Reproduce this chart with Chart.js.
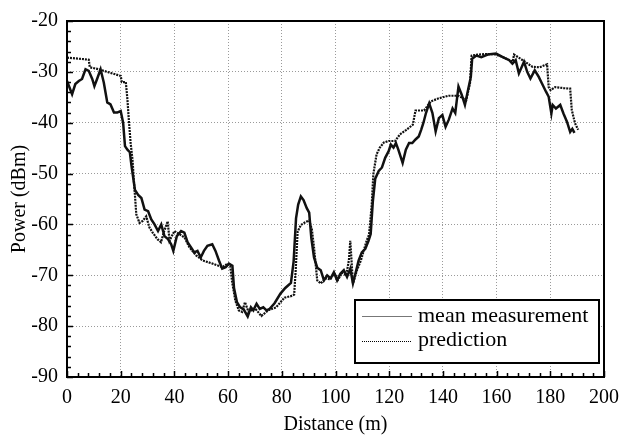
<!DOCTYPE html>
<html>
<head>
<meta charset="utf-8">
<script src="https://cdn.jsdelivr.net/npm/chart.js@4.4.1/dist/chart.umd.min.js"></script>
<style>
  body { margin: 0; background: #fff; }
  #wrap { width: 628px; height: 439px; }
</style>
</head>
<body>
<div id="wrap"><canvas id="powerChart" width="628" height="439"></canvas></div>
<script>
// mean measurement (distance m, power dBm)
const measDist = [0, 1.9, 3.1, 4.4, 5.6, 6.9, 8.1, 9.4, 10.2, 11.2, 12.5, 13.7, 15, 16.2, 17.5, 18.7, 20, 20.9, 21.6, 22.5,
  23.4, 24, 25.3, 26.5, 27.7, 28.9, 30.2, 31.4, 32.6, 33.9, 35.1, 36.3, 37.6, 38.8, 39.6, 40.9, 42.5, 43.7, 44.9, 46.2,
  47.4, 48.6, 49.8, 51, 52.3, 54.1, 55.3, 56.6, 57.8, 59.1, 60.3, 61.6, 62.2, 63.3, 64.5, 65.7, 67.3, 68.5, 69.4, 70.6,
  71.8, 73.1, 74.3, 75.5, 77.3, 79.5, 81.3, 83.4, 84.4, 85.3, 86.1, 87.1, 88.1, 89.3, 90.2, 91, 92, 93.2, 94.5, 95.7,
  96.9, 98.2, 99.4, 100.6, 101.8, 103.1, 104.3, 105.5, 106.5, 107.4, 108.6, 109.8, 111.1, 112.3, 113.1, 113.9, 114.8, 116.1, 117.3, 118.5,
  119.8, 120.6, 121.6, 122.5, 123.4, 125, 126.2, 127.4, 128.6, 129.8, 131, 131.9, 132.7, 133.7, 134.9, 136.1, 137.3, 138.5, 139.8, 141,
  142.2, 143.6, 144.6, 145.8, 147, 148.2, 149.5, 150.4, 150.9, 152.5, 154.3, 156.7, 159.8, 162.3, 164.7, 165.9, 167.1, 168.3, 170.2, 171.4,
  172.6, 174.2, 175.7, 176.9, 178.4, 179.4, 180.4, 180.9, 182.1, 183.7, 184.9, 186.2, 187.4, 188.2, 189];
const measPower = [-31.8, -34.4, -32.4, -31.8, -31.4, -29.5, -29.8, -31.4, -32.8, -31.4, -29.5, -32.1, -36, -36.4, -38, -38, -37.7, -40, -44.6, -45.3,
  -45.8, -48.4, -53.2, -54.2, -54.8, -57.1, -57.4, -59, -60, -61.3, -60, -62.3, -62.9, -63.9, -65.2, -62.3, -61.3, -61.6, -63.5, -64.5,
  -65.5, -65.2, -66.5, -65.2, -64.2, -63.9, -65.2, -67.1, -68.7, -68.4, -67.7, -68.1, -72.5, -75.3, -76.3, -76.6, -78.1, -76.3, -76.9, -75.6,
  -76.6, -76.3, -76.9, -76.6, -75.5, -73.6, -72.5, -71.5, -67.3, -58.8, -56.1, -54.5, -55.2, -56.8, -57.7, -62.7, -66.5, -68.5, -69, -71,
  -70, -70.6, -69.4, -71, -69.7, -69, -70.3, -68.7, -71.6, -69.7, -67.1, -65.5, -64.8, -63.2, -61.9, -55.5, -51, -49.5, -48.8, -46.9,
  -45.6, -44.3, -44.9, -44, -45.3, -47.9, -45.3, -44, -44, -43.3, -42.7, -41.4, -40.1, -38.1, -36.2, -38.1, -41.7, -39.1, -38.5, -40.8,
  -39.4, -37.2, -38.1, -32.9, -34.5, -36.5, -33.2, -31, -27.4, -26.8, -27.1, -26.6, -26.4, -27.1, -27.7, -28.4, -27.7, -30.3, -28, -30,
  -31.3, -29.7, -31, -32.3, -33.9, -34.9, -38.2, -36.5, -37.2, -36.5, -38.2, -39.8, -41.8, -41.2, -42];

// prediction
const predDist = [0, 4, 8.1, 8.5, 11.9, 15.6, 20, 20.4, 21.9, 22.5, 23.1, 23.7, 24.4, 25, 25.8, 27, 28.2, 29.5, 30.7, 31.9,
  33.7, 35, 36.2, 37.5, 38.2, 40, 41.9, 43.8, 45.6, 48.1, 50.6, 54.2, 57.9, 59.8, 60.8, 61.5, 62.7, 64, 65.2, 66.3,
  67.6, 70, 72.4, 74.9, 77.9, 81, 83.4, 84.6, 85.2, 85.9, 87.1, 89, 90.2, 91.2, 92, 93.2, 94.5, 96.3, 98, 99.5,
  101, 102.5, 104, 105, 105.5, 106.5, 108, 109.5, 111.6, 112.5, 113.5, 114.1, 115.3, 116.5, 118, 119.8, 122.2, 124, 126.4, 128.8,
  129.8, 133, 135.5, 138.5, 142.1, 145.8, 147.6, 148.5, 150.1, 150.7, 153, 156, 159, 162, 164, 166, 166.5, 170, 173.3, 176,
  178.8, 179.4, 180.1, 181.8, 185, 187.4, 188, 189.2, 190.4];
const predPower = [-27.2, -27.4, -27.6, -29.1, -29.5, -30.1, -30.8, -32, -32, -35.4, -40, -44, -47.3, -52, -58, -59.7, -59.3, -58.4, -60.6, -61.6,
  -62.9, -63.5, -61.3, -59.4, -63.2, -61.3, -61.9, -62.6, -64.5, -66.1, -67.1, -67.7, -68.4, -67.7, -68.2, -71.3, -75, -76.9, -77.2, -75.3,
  -77.2, -76.5, -78, -76.9, -76.3, -74.4, -74.1, -73.8, -68.8, -61.4, -60.1, -59.5, -59.2, -61, -64.5, -71, -71.6, -70.6, -70.8, -69.6,
  -70.8, -69.5, -70, -67, -63.2, -71.6, -69, -67, -63.2, -62, -56.1, -50.1, -46.2, -44.9, -43.9, -43.6, -43.6, -42.3, -41.4, -40.4,
  -37.6, -37.6, -35.8, -35.2, -34.7, -34.7, -35.2, -36, -32.2, -26.8, -26.6, -26.5, -26.5, -27, -27.5, -28, -26.6, -27.8, -29, -29.1,
  -28.5, -33, -33.6, -33, -33.2, -33.3, -37.5, -40.1, -41.4];

const seriesNames = ["mean measurement", "prediction"];
const xTicks = [0, 20, 40, 60, 80, 100, 120, 140, 160, 180, 200];
const yTicks = [-90, -80, -70, -60, -50, -40, -30, -20];

const serif = "'Liberation Serif', 'DejaVu Serif', serif";

function toPoints(xs, ys) {
  return xs.map((x, i) => ({ x: x, y: ys[i] }));
}

// frame, inward tick marks and the boxed legend
const framePlugin = {
  id: "frame",
  afterDraw(chart) {
    const ctx = chart.ctx;
    const a = chart.chartArea;
    const xs = chart.scales.x;
    const ys = chart.scales.y;
    ctx.save();
    ctx.strokeStyle = "#000";
    ctx.lineWidth = 1.5;
    ctx.beginPath();
    for (let v = -90; v <= -20; v += 2) {
      const py = Math.round(ys.getPixelForValue(v)) + 0.5;
      const len = v % 10 === 0 ? 6 : 4;
      ctx.moveTo(a.left, py);
      ctx.lineTo(a.left + len, py);
    }
    for (let v = 0; v <= 200; v += 4) {
      const px = Math.round(xs.getPixelForValue(v)) + 0.5;
      const len = v % 20 === 0 ? 6 : 4;
      ctx.moveTo(px, a.bottom);
      ctx.lineTo(px, a.bottom - len);
    }
    ctx.stroke();
    ctx.lineWidth = 2;
    ctx.strokeRect(a.left, a.top, a.right - a.left, a.bottom - a.top);

    // legend box
    const lx = 355, ly = 300, lw = 244, lh = 63;
    ctx.fillStyle = "#fff";
    ctx.fillRect(lx, ly, lw, lh);
    ctx.lineWidth = 2;
    ctx.strokeRect(lx, ly, lw, lh);
    ctx.lineWidth = 1;
    ctx.strokeStyle = "#777";
    ctx.beginPath();
    ctx.moveTo(362, 316.5);
    ctx.lineTo(412, 316.5);
    ctx.stroke();
    ctx.strokeStyle = "#000";
    ctx.setLineDash([1, 1]);
    ctx.beginPath();
    ctx.moveTo(362, 341.5);
    ctx.lineTo(412, 341.5);
    ctx.stroke();
    ctx.setLineDash([]);
    ctx.fillStyle = "#000";
    ctx.font = "22px " + serif;
    ctx.textBaseline = "middle";
    ctx.textAlign = "left";
    ctx.fillText(seriesNames[0], 418, 316);
    ctx.fillText(seriesNames[1], 418, 340);
    ctx.restore();
  }
};

const chart = new Chart(document.getElementById("powerChart"), {
  type: "line",
  data: {
    datasets: [{
      label: seriesNames[0],
      data: toPoints(measDist, measPower),
      borderColor: "#111",
      borderWidth: 2.5,
      pointRadius: 0,
      tension: 0,
      fill: false
    }, {
      label: seriesNames[1],
      data: toPoints(predDist, predPower),
      borderColor: "#111",
      borderWidth: 2.2,
      borderDash: [2, 1],
      pointRadius: 0,
      tension: 0,
      fill: false
    }]
  },
  options: {
    responsive: false,
    animation: false,
    layout: { padding: { left: 0, right: 18, top: 17, bottom: 0 } },
    plugins: {
      legend: { display: false },
      tooltip: { enabled: false }
    },
    scales: {
      x: {
        type: "linear",
        min: 0,
        max: 200,
        afterFit(scale) { scale.height = 62; },
        afterBuildTicks(scale) { scale.ticks = xTicks.map(v => ({ value: v })); },
        grid: { color: "#9a9a9a", lineWidth: 1, drawTicks: false, borderDash: [1, 2] },
        border: { display: false, dash: [1, 2] },
        ticks: { color: "#000", padding: 9, maxRotation: 0, font: { family: serif, size: 20 } },
        title: { display: true, text: "Distance (m)", color: "#000", padding: { top: 0, bottom: 2 }, font: { family: serif, size: 20 } }
      },
      y: {
        min: -90,
        max: -20,
        afterFit(scale) { scale.width = 67; },
        afterBuildTicks(scale) { scale.ticks = yTicks.map(v => ({ value: v })); },
        grid: { color: "#9a9a9a", lineWidth: 1, drawTicks: false },
        border: { display: false, dash: [1, 2] },
        ticks: { color: "#000", padding: 9, font: { family: serif, size: 20 } },
        title: { display: true, text: "Power (dBm)", color: "#000", padding: { top: 8, bottom: 0 }, font: { family: serif, size: 20 } }
      }
    }
  },
  plugins: [framePlugin]
});
</script>
</body>
</html>
